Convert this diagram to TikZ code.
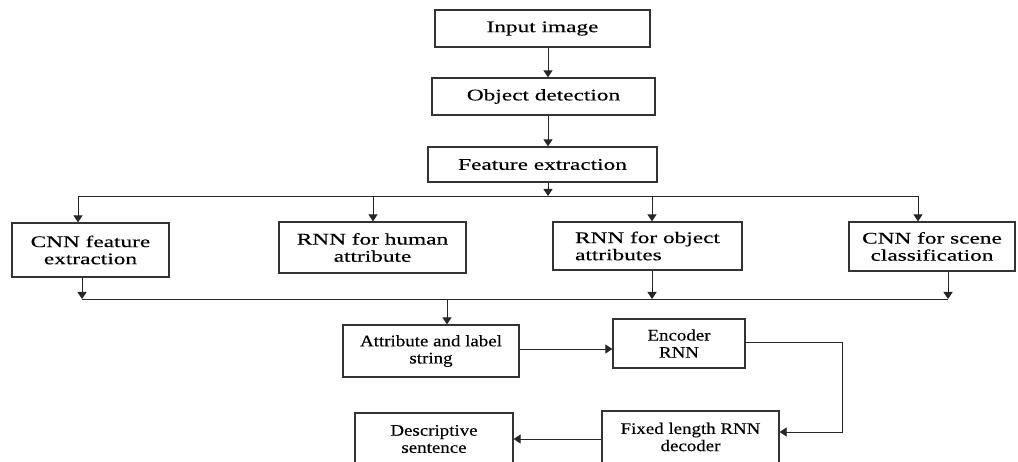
\documentclass[tikz,border=0pt]{standalone}
\usepackage{fontspec}
\setmainfont[FakeStretch=1.44,FakeBold=0.3]{Liberation Serif}
\newfontfamily\narrowfont[FakeStretch=1.17,FakeBold=0.3]{Liberation Serif}
\usetikzlibrary{arrows.meta}
\begin{document}
\begin{tikzpicture}[x=0.025cm,y=-0.025cm,
  box/.style={draw=black!80, line width=0.9pt, inner sep=0pt, align=center,
    font=\fontsize{11.5}{12.2}\selectfont},
  nbox/.style={box, font=\narrowfont\fontsize{11.5}{12.2}\selectfont},
  sz/.style 2 args={minimum width=#1*0.025cm, minimum height=#2*0.025cm},
  conn/.style={draw=black!85, line width=0.6pt},
  arr/.style={conn, -{Triangle[length=5pt,width=6.5pt]}}]
\useasboundingbox (0,0) rectangle (1018,461);
\clip (0,0) rectangle (1018,461);
% boxes
\node[box, sz={215}{37}] (inp) at (542.5,28.5) {Input image};
\node[box, sz={223}{37}] (obj) at (543.5,96.5) {Object detection};
\node[box, sz={229}{35}] (feat) at (542.5,164.5) {Feature extraction};
\node[box, sz={157}{54}] (cnnf) at (90.5,250) {CNN feature\\extraction};
\node[box, sz={187}{51}] (rnnh) at (372.5,247.5) {RNN for human\\attribute};
\node[box, sz={189}{48}, align=left] (rnno) at (647.5,246) {RNN for object\\attributes};
\node[box, sz={166}{49}] (cnns) at (932,246.5) {CNN for scene\\classification};
\node[nbox, sz={176}{52}] (attr) at (431,351) {Attribute and label\\string};
\node[nbox, sz={132}{49}] (enc) at (679,343.5) {Encoder\\RNN};
\node[nbox, sz={177}{52}] (fix) at (690.5,437) {Fixed length RNN\\decoder};
\node[nbox, sz={158}{52}] (desc) at (434,439) {Descriptive\\sentence};
% coordinates
\coordinate (ax) at (548,0);
\coordinate (busL) at (78,196);
\coordinate (busR) at (918,196);
\coordinate (t2) at (373,196);
\coordinate (t3) at (652,196);
\coordinate (b1) at (82,299);
\coordinate (b2) at (447,299);
\coordinate (b3) at (652,299);
\coordinate (b4) at (948,299);
\coordinate (ey) at (0,349);
\coordinate (rt) at (842,342);
\coordinate (rb) at (842,432);
\coordinate (dy) at (0,439);
% connectors
\draw[arr] (inp.south -| ax) -- (obj.north -| ax);
\draw[arr] (obj.south -| ax) -- (feat.north -| ax);
\draw[arr] (feat.south -| ax) -- (ax |- busL);
\draw[conn] (busL) -- (busR);
\draw[arr] (busL) -- (cnnf.north -| busL);
\draw[arr] (t2) -- (rnnh.north -| t2);
\draw[arr] (t3) -- (rnno.north -| t3);
\draw[arr] (busR) -- (cnns.north -| busR);
\draw[arr] (cnnf.south -| b1) -- (b1);
\draw[arr] (rnno.south -| b3) -- (b3);
\draw[arr] (cnns.south -| b4) -- (b4);
\draw[conn] (b1) -- (b4);
\draw[arr] (b2) -- (attr.north -| b2);
\draw[arr] (attr.east |- ey) -- (enc.west |- ey);
\draw[arr] (enc.east |- rt) -- (rt) -- (rb) -- (fix.east |- rb);
\draw[arr] (fix.west |- dy) -- (desc.east |- dy);
\end{tikzpicture}
\end{document}
